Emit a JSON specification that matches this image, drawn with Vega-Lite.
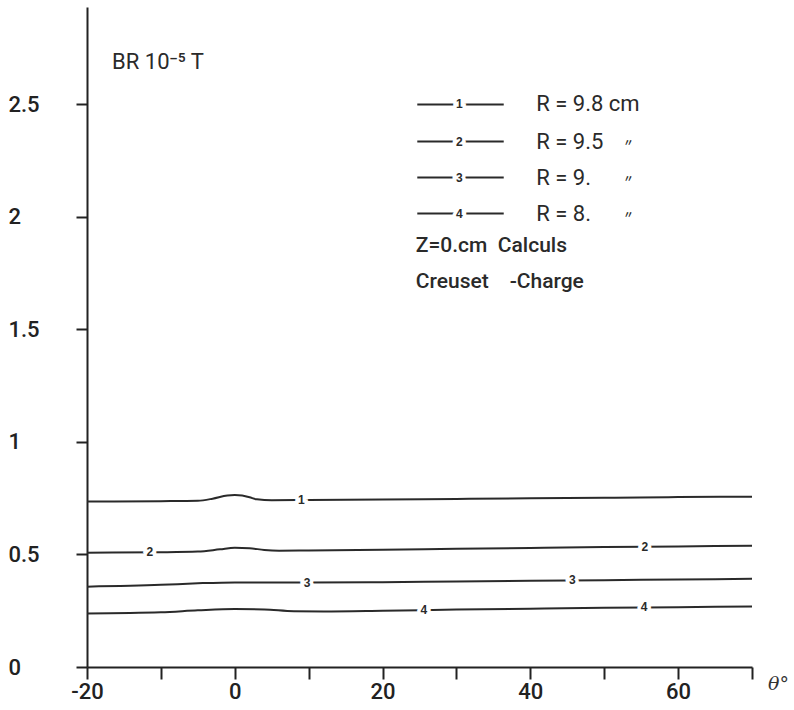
{
  "$schema": "https://vega.github.io/schema/vega-lite/v6.json",
  "width": 665,
  "height": 660,
  "autosize": {"type": "none"},
  "padding": {"left": 87, "top": 7, "right": 42, "bottom": 43},
  "background": "white",
  "config": {
    "view": {"stroke": null},
    "font": "Liberation Sans",
    "axis": {"grid": false, "domainColor": "#222", "tickColor": "#222", "domainWidth": 2, "tickWidth": 2, "labelColor": "#222", "labelFont": "Roboto", "labelFontWeight": 500, "labelFontSize": 22, "labelFlush": false}
  },
  "datasets": {
    "curves": [
      {"series": "1", "theta": -20, "B": 0.735}, {"series": "1", "theta": -10, "B": 0.737}, {"series": "1", "theta": -5, "B": 0.739},
      {"series": "1", "theta": -3, "B": 0.748}, {"series": "1", "theta": -1, "B": 0.762}, {"series": "1", "theta": 0, "B": 0.764},
      {"series": "1", "theta": 1, "B": 0.762}, {"series": "1", "theta": 2, "B": 0.754}, {"series": "1", "theta": 3, "B": 0.745},
      {"series": "1", "theta": 5, "B": 0.741}, {"series": "1", "theta": 10, "B": 0.742}, {"series": "1", "theta": 20, "B": 0.744},
      {"series": "1", "theta": 30, "B": 0.747}, {"series": "1", "theta": 40, "B": 0.75}, {"series": "1", "theta": 50, "B": 0.752},
      {"series": "1", "theta": 60, "B": 0.755}, {"series": "1", "theta": 70, "B": 0.757},
      {"series": "2", "theta": -20, "B": 0.508}, {"series": "2", "theta": -10, "B": 0.51}, {"series": "2", "theta": -5, "B": 0.513},
      {"series": "2", "theta": -2, "B": 0.523}, {"series": "2", "theta": 0, "B": 0.53}, {"series": "2", "theta": 2, "B": 0.528},
      {"series": "2", "theta": 4, "B": 0.52}, {"series": "2", "theta": 6, "B": 0.517}, {"series": "2", "theta": 10, "B": 0.518},
      {"series": "2", "theta": 20, "B": 0.521}, {"series": "2", "theta": 30, "B": 0.525}, {"series": "2", "theta": 40, "B": 0.529},
      {"series": "2", "theta": 50, "B": 0.533}, {"series": "2", "theta": 60, "B": 0.536}, {"series": "2", "theta": 70, "B": 0.539},
      {"series": "3", "theta": -20, "B": 0.357}, {"series": "3", "theta": -10, "B": 0.365}, {"series": "3", "theta": -5, "B": 0.372},
      {"series": "3", "theta": 0, "B": 0.376}, {"series": "3", "theta": 5, "B": 0.376}, {"series": "3", "theta": 10, "B": 0.375},
      {"series": "3", "theta": 20, "B": 0.377}, {"series": "3", "theta": 30, "B": 0.38}, {"series": "3", "theta": 40, "B": 0.383},
      {"series": "3", "theta": 50, "B": 0.386}, {"series": "3", "theta": 60, "B": 0.389}, {"series": "3", "theta": 70, "B": 0.392},
      {"series": "4", "theta": -20, "B": 0.238}, {"series": "4", "theta": -10, "B": 0.243}, {"series": "4", "theta": -5, "B": 0.252},
      {"series": "4", "theta": 0, "B": 0.258}, {"series": "4", "theta": 4, "B": 0.256}, {"series": "4", "theta": 8, "B": 0.248},
      {"series": "4", "theta": 12, "B": 0.247}, {"series": "4", "theta": 20, "B": 0.25}, {"series": "4", "theta": 30, "B": 0.255},
      {"series": "4", "theta": 40, "B": 0.259}, {"series": "4", "theta": 50, "B": 0.263}, {"series": "4", "theta": 60, "B": 0.266},
      {"series": "4", "theta": 70, "B": 0.269}
    ],
    "labels": [
      {"label": "1", "theta": 9, "B": 0.742},
      {"label": "2", "theta": -11.5, "B": 0.51},
      {"label": "2", "theta": 55.5, "B": 0.535},
      {"label": "3", "theta": 9.8, "B": 0.375},
      {"label": "3", "theta": 45.7, "B": 0.385},
      {"label": "4", "theta": 25.6, "B": 0.253},
      {"label": "4", "theta": 55.4, "B": 0.265},
      {"label": "1", "theta": 30.4, "B": 2.5},
      {"label": "2", "theta": 30.4, "B": 2.335},
      {"label": "3", "theta": 30.4, "B": 2.175},
      {"label": "4", "theta": 30.4, "B": 2.015}
    ],
    "legendRules": [
      {"row": "1", "xa": 24.7, "xb": 36.4, "B": 2.5},
      {"row": "2", "xa": 24.7, "xb": 36.4, "B": 2.335},
      {"row": "3", "xa": 24.7, "xb": 36.4, "B": 2.175},
      {"row": "4", "xa": 24.7, "xb": 36.4, "B": 2.015}
    ],
    "legendText": [
      {"text": "R = 9.8 cm", "theta": 40.8, "B": 2.5},
      {"text": "R = 9.5", "theta": 40.8, "B": 2.335},
      {"text": "R = 9.", "theta": 40.8, "B": 2.175},
      {"text": "R = 8.", "theta": 40.8, "B": 2.015}
    ],
    "ditto": [
      {"text": "〃", "theta": 53.3, "B": 2.33},
      {"text": "〃", "theta": 53.3, "B": 2.17},
      {"text": "〃", "theta": 53.3, "B": 2.01}
    ],
    "notes": [
      {"text": "Z=0.cm", "theta": 24.5, "B": 1.87},
      {"text": "Calculs", "theta": 35.6, "B": 1.87},
      {"text": "Creuset", "theta": 24.5, "B": 1.71},
      {"text": "-Charge", "theta": 37.2, "B": 1.71}
    ],
    "title": [
      {"text": "BR  10⁻⁵ T", "theta": -16.6, "B": 2.69}
    ]
  },
  "layer": [
    {
      "data": {"name": "curves"},
      "mark": {"type": "line", "interpolate": "monotone", "color": "#2a2a2a", "strokeWidth": 2},
      "encoding": {
        "x": {"field": "theta", "type": "quantitative", "scale": {"domain": [-20, 70], "nice": false, "zero": false},
          "axis": {"values": [-20, -10, 0, 10, 20, 30, 40, 50, 60, 70], "tickSize": 12, "labelPadding": 2,
            "labelExpr": "datum.value % 20 == 0 ? (datum.value < 0 ? '-' + abs(datum.value) : '' + datum.value) : ''",
            "title": "θ°", "titleFont": "DejaVu Serif", "titleFontStyle": "italic", "titleFontWeight": "normal", "titleFontSize": 19, "titleColor": "#333",
            "titleX": 691, "titleY": 16, "titleAlign": "center", "titleBaseline": "middle", "titleAngle": 0}},
        "y": {"field": "B", "type": "quantitative", "scale": {"domain": [0, 2.933], "nice": false},
          "axis": {"values": [0, 0.5, 1, 1.5, 2, 2.5], "tickSize": 11, "labelAlign": "left", "labelPadding": 68, "labelBaseline": "middle",
            "labelExpr": "'' + datum.value", "title": null}},
        "detail": {"field": "series", "type": "nominal"}
      }
    },
    {
      "data": {"name": "legendRules"},
      "mark": {"type": "rule", "color": "#2a2a2a", "strokeWidth": 2},
      "encoding": {
        "x": {"field": "xa", "type": "quantitative"},
        "x2": {"field": "xb"},
        "y": {"field": "B", "type": "quantitative"}
      }
    },
    {
      "data": {"name": "labels"},
      "mark": {"type": "text", "fontSize": 12, "fontWeight": "bold", "color": "white", "stroke": "white", "strokeWidth": 7, "align": "center", "baseline": "middle"},
      "encoding": {
        "x": {"field": "theta", "type": "quantitative"},
        "y": {"field": "B", "type": "quantitative"},
        "text": {"field": "label"}
      }
    },
    {
      "data": {"name": "labels"},
      "mark": {"type": "text", "fontSize": 12, "fontWeight": "bold", "color": "#2a2a2a", "align": "center", "baseline": "middle"},
      "encoding": {
        "x": {"field": "theta", "type": "quantitative"},
        "y": {"field": "B", "type": "quantitative"},
        "text": {"field": "label"}
      }
    },
    {
      "data": {"name": "legendText"},
      "mark": {"type": "text", "fontSize": 22, "font": "Roboto", "fontWeight": 400, "color": "#2a2a2a", "align": "left", "baseline": "middle"},
      "encoding": {
        "x": {"field": "theta", "type": "quantitative"},
        "y": {"field": "B", "type": "quantitative"},
        "text": {"field": "text"}
      }
    },
    {
      "data": {"name": "ditto"},
      "mark": {"type": "text", "fontSize": 10, "font": "Noto Sans CJK SC", "fontWeight": "bold", "color": "#2a2a2a", "align": "center", "baseline": "middle"},
      "encoding": {
        "x": {"field": "theta", "type": "quantitative"},
        "y": {"field": "B", "type": "quantitative"},
        "text": {"field": "text"}
      }
    },
    {
      "data": {"name": "notes"},
      "mark": {"type": "text", "fontSize": 21, "font": "Roboto", "fontWeight": 500, "color": "#2a2a2a", "align": "left", "baseline": "middle"},
      "encoding": {
        "x": {"field": "theta", "type": "quantitative"},
        "y": {"field": "B", "type": "quantitative"},
        "text": {"field": "text"}
      }
    },
    {
      "data": {"name": "title"},
      "mark": {"type": "text", "fontSize": 22, "font": "Roboto", "fontWeight": 400, "color": "#2a2a2a", "align": "left", "baseline": "middle"},
      "encoding": {
        "x": {"field": "theta", "type": "quantitative"},
        "y": {"field": "B", "type": "quantitative"},
        "text": {"field": "text"}
      }
    }
  ]
}
